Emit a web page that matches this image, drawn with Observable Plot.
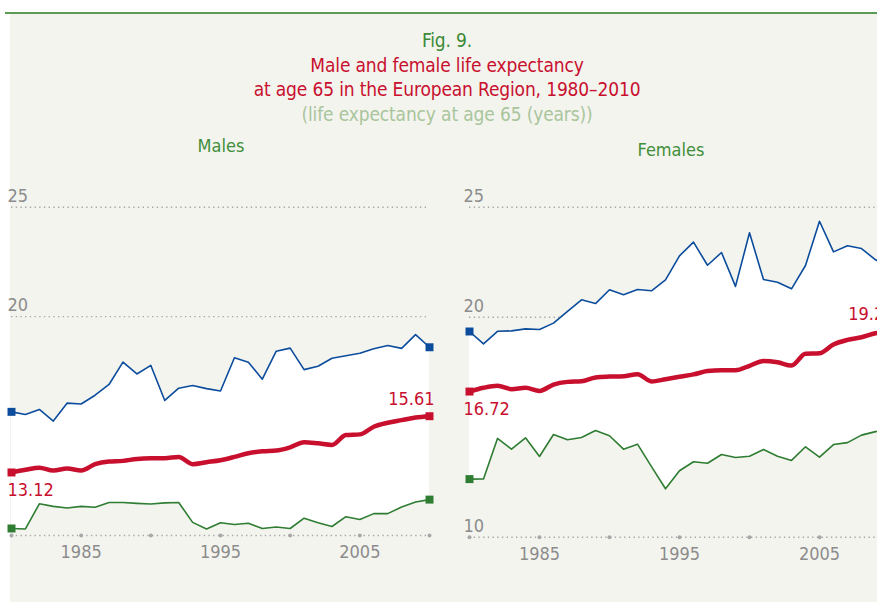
<!DOCTYPE html>
<html><head><meta charset="utf-8">
<script src="https://cdn.jsdelivr.net/npm/d3@7"></script>
<script src="https://cdn.jsdelivr.net/npm/@observablehq/plot@0.6"></script>
<style>
body{margin:0;background:#fff;overflow:hidden}
#page{position:relative;width:877px;height:602px;overflow:hidden;font-family:"DejaVu Sans Condensed","Liberation Sans",sans-serif;}
#bg{position:absolute;left:10px;top:13px;right:0;bottom:0;background:#f4f4ef}
#rule{position:absolute;left:5px;top:12px;width:872px;height:2px;background:#5b9b55}
.t{position:absolute;left:0;width:894px;text-align:center;font-size:19px;letter-spacing:-0.15px;line-height:24px;white-space:nowrap}
.p{position:absolute;width:200px;text-align:center;font-size:18px;line-height:24px;color:#3f8f3a}
.svgwrap{position:absolute;top:160px;height:442px}
.svgwrap svg{max-width:none !important}
</style></head>
<body>
<div id="page">
  <div id="bg"></div>
  <div id="rule"></div>
  <div class="t" style="top:28px;color:#3a8a35">Fig. 9.</div>
  <div class="t" style="top:53px;color:#c8102e">Male and female life expectancy</div>
  <div class="t" style="top:77px;color:#c8102e">at age 65 in the European Region, 1980–2010</div>
  <div class="t" style="top:102px;color:#a9c59c">(life expectancy at age 65 (years))</div>
  <div class="p" style="left:121px;top:134px">Males</div>
  <div class="p" style="left:571px;top:138px">Females</div>
  <div class="svgwrap" id="males" style="left:0px;width:440px"></div>
  <div class="svgwrap" id="females" style="left:440px;width:460px"></div>
</div>
<script>
const years = [1980,1981,1982,1983,1984,1985,1986,1987,1988,1989,1990,1991,1992,1993,1994,1995,1996,1997,1998,1999,2000,2001,2002,2003,2004,2005,2006,2007,2008,2009,2010];
const tickYears = [1980,1985,1990,1995,2000,2005,2010];
const labelYears = [1985,1995,2005];

const malesMax = [15.65,15.53,15.76,15.23,16.05,16.01,16.41,16.9,17.92,17.38,17.77,16.17,16.73,16.85,16.71,16.6,18.12,17.92,17.14,18.42,18.56,17.58,17.73,18.1,18.21,18.33,18.53,18.68,18.55,19.18,18.6];
const malesAvg = [12.88,13.0,13.1,12.97,13.06,12.97,13.26,13.38,13.41,13.5,13.53,13.53,13.59,13.26,13.35,13.44,13.59,13.76,13.85,13.88,14.03,14.26,14.21,14.14,14.59,14.62,14.97,15.15,15.27,15.39,15.45];
const malesMin = [10.32,10.3,11.45,11.33,11.26,11.33,11.29,11.51,11.51,11.47,11.44,11.49,11.51,10.6,10.3,10.58,10.5,10.56,10.32,10.39,10.32,10.79,10.58,10.41,10.86,10.73,11.0,11.0,11.3,11.53,11.64];

const femalesMax = [19.35,18.79,19.36,19.38,19.47,19.44,19.73,20.26,20.79,20.62,21.25,21.02,21.26,21.2,21.7,22.79,23.41,22.36,22.94,21.4,23.84,21.71,21.59,21.29,22.35,24.36,22.97,23.25,23.12,22.61,22.3];
const femalesAvg = [16.62,16.79,16.88,16.73,16.79,16.65,16.94,17.06,17.09,17.26,17.3,17.32,17.41,17.08,17.18,17.29,17.4,17.55,17.59,17.59,17.79,18.01,17.95,17.8,18.34,18.36,18.76,18.97,19.09,19.27,19.35];
const femalesMin = [12.64,12.65,14.49,14.0,14.52,13.67,14.67,14.43,14.53,14.85,14.61,14.0,14.23,13.21,12.2,13.02,13.43,13.36,13.76,13.62,13.68,13.99,13.68,13.49,14.11,13.64,14.21,14.3,14.64,14.8,14.9];

const malesYTicks = [20, 25];
const femalesYTicks = [10, 20, 25];
const gridValues = [20, 25];
const malesLabels = ["13.12", "15.61"];
const femalesLabels = ["16.72", "19.28"];

const FONT = '"DejaVu Sans Condensed","Liberation Sans",sans-serif';
const BLUE = "#0b4c9c", RED = "#c8102e", GREEN = "#2e7d32", GRAY = "#8c8c8c", DOT = "#a8a8a8";

function panel(o) {
  const rows = years.map((y, i) => ({year: y, max: o.max[i], avg: o.avg[i], min: o.min[i]}));
  const first = rows[0], last = rows[rows.length - 1];
  const ends = [first, last];
  return Plot.plot({
    width: o.width, height: 442,
    marginLeft: 0, marginRight: 0, marginTop: 0, marginBottom: 0,
    x: {domain: [1980, 2010], range: o.xRange, axis: null},
    y: {domain: [10, 25], range: o.yRange, axis: null},
    style: {background: "transparent", overflow: "visible", fontFamily: FONT, maxWidth: "none"},
    marks: [
      Plot.ruleY(gridValues, {x1: 1980, x2: 2010, stroke: DOT, strokeWidth: 1.4, strokeDasharray: "1.4,3.3"}),
      Plot.ruleY([10], {x1: 1980, x2: 2010, stroke: DOT, strokeWidth: 1.4, strokeDasharray: "1.4,3.3"}),
      Plot.dot(tickYears, {x: d => d, y: 10, r: 2, fill: DOT, stroke: null}),
      Plot.areaY(rows, {x: "year", y1: "min", y2: "max", fill: "#ffffff"}),
      Plot.line(rows, {x: "year", y: "max", stroke: BLUE, strokeWidth: 1.6}),
      Plot.line(rows, {x: "year", y: "min", stroke: GREEN, strokeWidth: 1.6}),
      Plot.line(rows, {x: "year", y: "avg", stroke: RED, strokeWidth: 4.5, curve: "monotone-x", strokeLinejoin: "round"}),
      Plot.dot(ends, {x: "year", y: "max", symbol: "square", r: 4.5, fill: BLUE, stroke: null}),
      Plot.dot(ends, {x: "year", y: "min", symbol: "square", r: 4.5, fill: GREEN, stroke: null}),
      Plot.dot(ends, {x: "year", y: "avg", symbol: "square", r: 4.5, fill: RED, stroke: null}),
      Plot.text(o.yTicks, {x: 1980, y: d => d, text: d => String(d), dx: o.tickDx, dy: -11, textAnchor: "start", fontSize: 18, fill: GRAY}),
      Plot.text(labelYears, {x: d => d, y: 10, text: d => String(d), dy: 17, fontSize: 18, fill: GRAY}),
      Plot.text([first], {x: "year", y: "avg", text: () => o.labels[0], dx: o.tickDx, dy: 18, textAnchor: "start", fontSize: 18, fill: RED}),
      Plot.text([last], {x: "year", y: "avg", text: () => o.labels[1], dx: 5, dy: -17, textAnchor: "end", fontSize: 18, fill: RED})
    ]
  });
}

document.getElementById("males").append(panel({
  width: 440, xRange: [11, 429], yRange: [375, 46.7],
  max: malesMax, avg: malesAvg, min: malesMin, yTicks: malesYTicks, labels: malesLabels, tickDx: -4
}));
document.getElementById("females").append(panel({
  width: 460, xRange: [29, 449], yRange: [376.7, 46.7],
  max: femalesMax, avg: femalesAvg, min: femalesMin, yTicks: femalesYTicks, labels: femalesLabels, tickDx: -6
}));
</script>
</body></html>
